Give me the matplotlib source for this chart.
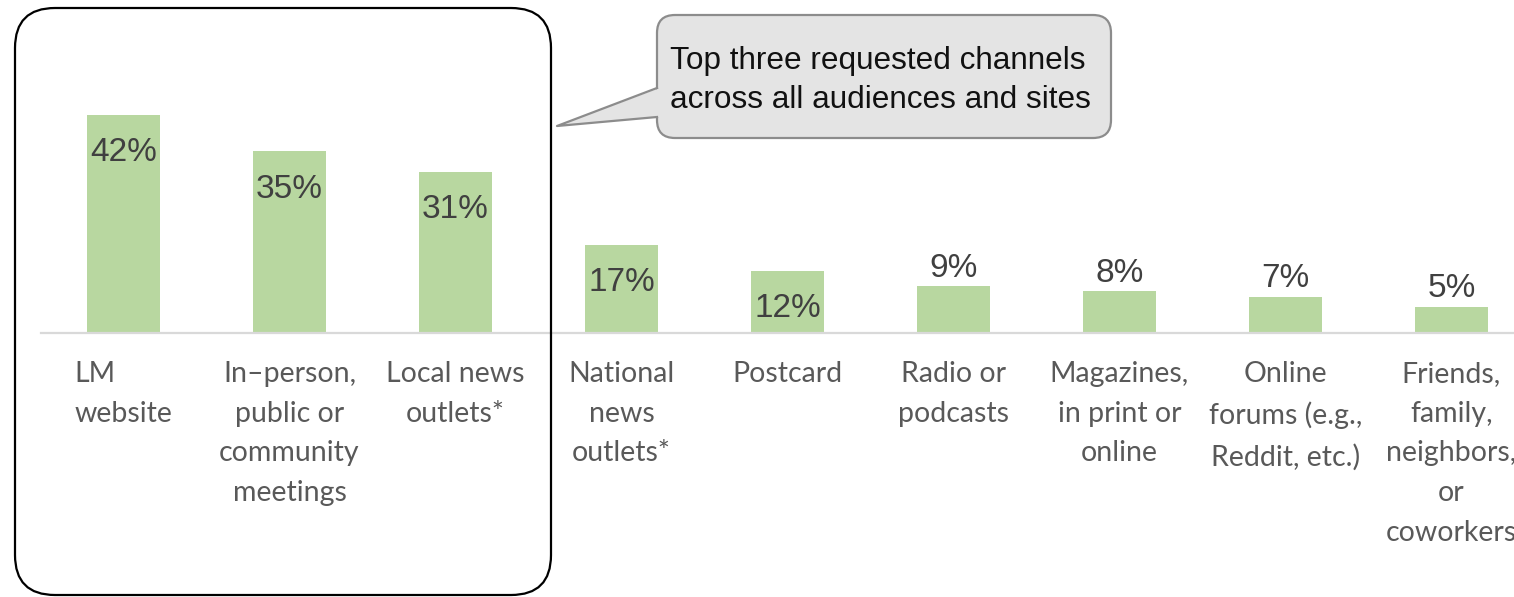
import matplotlib
matplotlib.use("Agg")
import matplotlib.pyplot as plt
from matplotlib.patches import FancyBboxPatch, Polygon
from matplotlib.lines import Line2D
from matplotlib.transforms import IdentityTransform

# Canal preferido para recibir información (% de respuestas)
categorias = [
    "LM\nwebsite",
    "In\u2013person,\npublic or\ncommunity\nmeetings",
    "Local news\noutlets*",
    "National\nnews\noutlets*",
    "Postcard",
    "Radio or\npodcasts",
    "Magazines,\nin print or\nonline",
    "Online\nforums (e.g.,\nReddit, etc.)",
    "Friends,\nfamily,\nneighbors,\nor\ncoworkers",
]
valores = [42, 35, 31, 17, 12, 9, 8, 7, 5]
etiquetas = [f"{v}%" for v in valores]
nota = "Top three requested channels\nacross all audiences and sites"

W, H = 1514, 597
fig = plt.figure(figsize=(W / 100, H / 100), dpi=100)

# el eje se sale por la derecha a propósito: la última categoría queda cortada
paso = 166
izq = 123.5 - paso / 2
ax = fig.add_axes([izq / W, 264 / H, 9 * paso / W, 259.5 / H])
x = range(len(valores))
ax.bar(x, valores, width=0.44, color="#b8d7a0")
ax.set_xlim(-0.5, len(valores) - 0.5)
ax.set_ylim(0, 50)

for s in ["top", "right", "left"]:
    ax.spines[s].set_visible(False)
ax.spines["bottom"].set_color("#d9d9d9")
ax.spines["bottom"].set_linewidth(1.6)
ax.set_yticks([])
ax.set_xticks([])

# valores: dentro de la barra si es alta, encima si es baja
for i, (v, t) in enumerate(zip(valores, etiquetas)):
    if v >= 12:
        ax.annotate(t, (i, v), xytext=(0, -16), textcoords="offset points",
                    ha="center", va="top", fontsize=24, color="#404040",
                    family="Liberation Sans")
    else:
        ax.annotate(t, (i, v), xytext=(0, 2), textcoords="offset points",
                    ha="center", va="bottom", fontsize=24, color="#404040",
                    family="Liberation Sans")

# nombres de los canales debajo del eje
for i, c in enumerate(categorias):
    ax.annotate(c, (i, 0), xytext=(0, -20), textcoords="offset points",
                ha="center", va="top", fontsize=20.5, color="#595959",
                family="Lato", linespacing=1.66,
                multialignment="left" if i == 0 else "center",
                annotation_clip=False)

px = IdentityTransform()

# recuadro que agrupa los tres primeros canales
marco = FancyBboxPatch((15, H - 595), 536, 587,
                       boxstyle="round,pad=0,rounding_size=40",
                       fill=False, edgecolor="black", linewidth=1.6,
                       transform=px)
fig.add_artist(marco)

# globo con la nota
globo = FancyBboxPatch((657, H - 138), 454, 123,
                       boxstyle="round,pad=0,rounding_size=18",
                       facecolor="#e4e4e4", edgecolor="#8c8c8c", linewidth=1.6,
                       transform=px)
fig.add_artist(globo)
cola = Polygon([(660, H - 88), (557, H - 126), (660, H - 117)], closed=True,
               facecolor="#e4e4e4", edgecolor="none", transform=px, zorder=2)
fig.add_artist(cola)
fig.add_artist(Line2D([657, 557, 657], [H - 88, H - 126, H - 117],
                      color="#8c8c8c", linewidth=1.6, transform=px, zorder=2))
fig.text(670 / W, 1 - 46 / H, nota, ha="left", va="top", fontsize=22.7,
         color="#111111", family="Liberation Sans", linespacing=1.38, zorder=3)

fig.savefig("out.png", dpi=100)
